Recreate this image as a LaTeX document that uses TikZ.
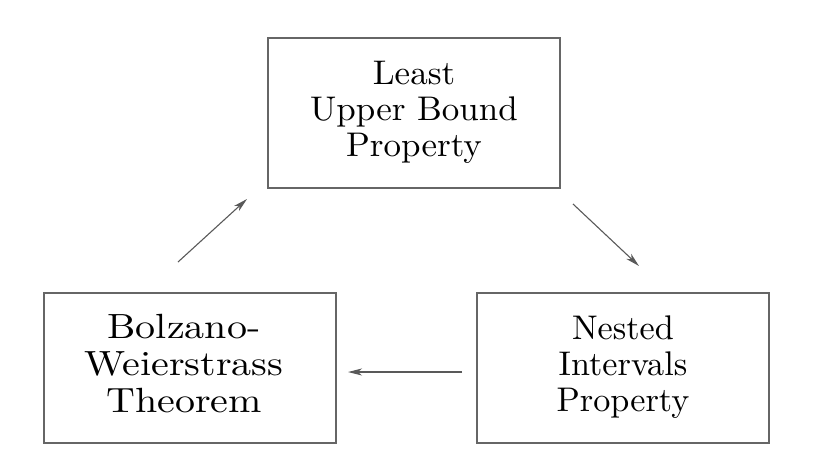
\documentclass[tikz,border=0pt]{standalone}
\usetikzlibrary{arrows.meta}
\newcommand{\boxtext}[4]{\raisebox{#4}{\scalebox{#1}[#2]{\fontsize{10}{10.5}\selectfont\begin{tabular}{@{}c@{}}#3\end{tabular}}}}
\begin{document}
\begin{tikzpicture}[x=1pt,y=-1pt,
  box/.style={draw=black!60,line width=1.6pt,minimum height=150pt,minimum width=292pt,align=center,inner sep=0pt},
  conn/.style={draw=black!65,line width=1.1pt,-{Stealth[length=14pt,width=7pt,inset=4pt]}}]
\useasboundingbox (0,0) rectangle (814,466);
\node[box] (lub) at (414,113) {\boxtext{3.5}{3.42}{Least\\Upper Bound\\Property}{-4pt}};
\node[box] (bw) at (190,368) {\hspace*{-12pt}\boxtext{4.0}{3.5}{Bolzano-\\Weierstrass\\Theorem}{-2pt}};
\node[box] (nip) at (623,368) {\boxtext{3.42}{3.42}{Nested\\Intervals\\Property}{-3pt}};
\coordinate (a1s) at (178,262);
\coordinate (a1e) at (247,199);
\coordinate (a2s) at (573,204);
\coordinate (a2e) at (639,266);
\coordinate (a3s) at (462,372);
\coordinate (a3e) at (348,372);
\draw[conn] (a1s) -- (a1e);
\draw[conn] (a2s) -- (a2e);
\draw[conn] (a3s) -- (a3e);
\end{tikzpicture}
\end{document}
